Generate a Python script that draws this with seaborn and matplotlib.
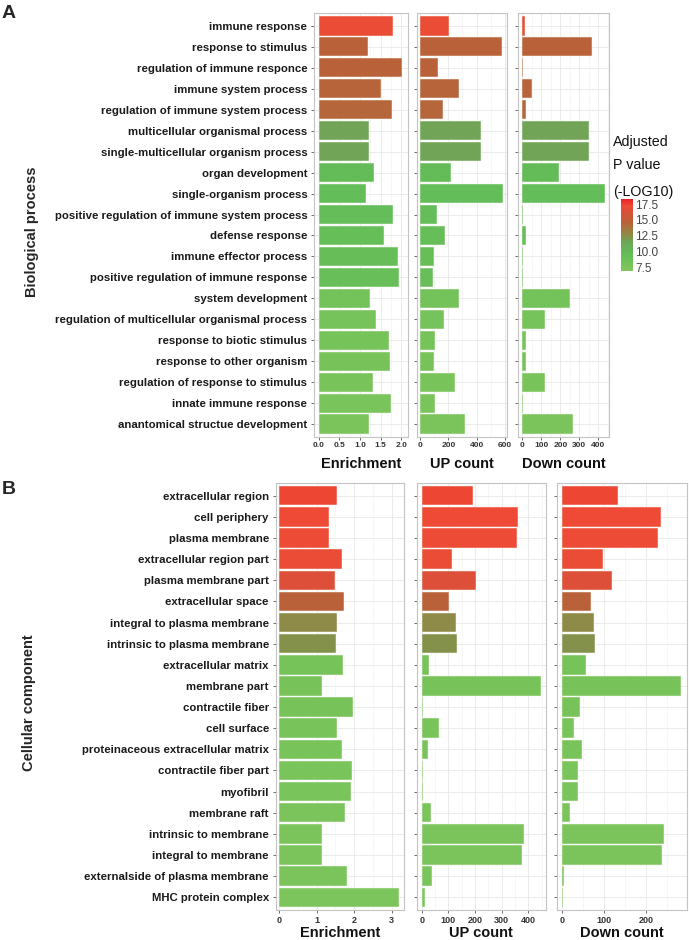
import numpy as np
import pandas as pd
import matplotlib
matplotlib.use('Agg')
import matplotlib.pyplot as plt
import seaborn as sns
from matplotlib.colors import LinearSegmentedColormap, Normalize
from matplotlib.ticker import AutoMinorLocator, FixedLocator
from matplotlib.colorbar import ColorbarBase

sns.set_theme(style='white')
plt.rcParams['font.family'] = ['Liberation Sans', 'DejaVu Sans']

# --- data: biological process (panel A) ---
bp_terms = [
    'immune response', 'response to stimulus', 'regulation of immune responce',
    'immune system process', 'regulation of immune system process',
    'multicellular organismal process', 'single-multicellular organism process',
    'organ development', 'single-organism process',
    'positive regulation of immune system process', 'defense response',
    'immune effector process', 'positive regulation of immune response',
    'system development', 'regulation of multicellular organismal process',
    'response to biotic stimulus', 'response to other organism',
    'regulation of response to stimulus', 'innate immune response',
    'anantomical structue development',
]
bp_enrichment = [1.79, 1.20, 2.02, 1.51, 1.77, 1.21, 1.21, 1.34, 1.14, 1.80,
                 1.58, 1.93, 1.94, 1.25, 1.39, 1.71, 1.73, 1.31, 1.76, 1.21]
bp_up = [205, 581, 129, 273, 162, 433, 433, 219, 588, 122,
         174, 96, 92, 278, 167, 104, 99, 249, 104, 318]
bp_down = [14, 365, 5, 53, 18, 353, 351, 193, 433, 4,
           18, 5, 2, 249, 119, 18, 18, 121, 4, 268]
bp_pval = [17.0, 14.5, 14.5, 14.4, 14.3, 11.6, 11.6, 9.6, 9.5, 9.4,
           9.3, 9.2, 9.1, 8.2, 8.1, 8.0, 7.9, 7.8, 7.7, 7.5]

# --- data: cellular component (panel B) ---
cc_terms = [
    'extracellular region', 'cell periphery', 'plasma membrane',
    'extracellular region part', 'plasma membrane part', 'extracellular space',
    'integral to plasma membrane', 'intrinsic to plasma membrane',
    'extracellular matrix', 'membrane part', 'contractile fiber', 'cell surface',
    'proteinaceous extracellular matrix', 'contractile fiber part', 'myofibril',
    'membrane raft', 'intrinsic to membrane', 'integral to membrane',
    'externalside of plasma membrane', 'MHC protein complex',
]
cc_enrichment = [1.55, 1.33, 1.33, 1.68, 1.50, 1.73, 1.54, 1.51, 1.69, 1.15,
                 1.96, 1.55, 1.68, 1.95, 1.91, 1.75, 1.15, 1.15, 1.80, 3.20]
cc_up = [192, 362, 357, 115, 202, 101, 130, 131, 29, 446,
         5, 65, 22, 6, 5, 35, 384, 375, 39, 12]
cc_down = [133, 234, 228, 97, 119, 68, 75, 77, 57, 283,
           41, 29, 48, 37, 38, 18, 241, 237, 5, 1.5]
cc_pval = [17.3, 17.2, 17.1, 17.0, 16.4, 14.5, 12.7, 12.3, 8.0, 7.9,
           7.9, 7.8, 7.8, 7.7, 7.7, 7.6, 7.6, 7.5, 7.5, 7.4]

PVAL_MIN, PVAL_MAX = 6.9, 18.3
cmap_nodes = [6.9, 8.0, 9.5, 11.5, 12.3, 12.7, 14.5, 16.4, 17.2, 18.3]
cmap_colors = ['#7fc65d', '#76c35a', '#63bd58', '#6ea659', '#84914b',
               '#8e8a47', '#b9623a', '#dc4f38', '#ee4b35', '#e6222a']
CMAP = LinearSegmentedColormap.from_list(
    'pval', [((v - PVAL_MIN) / (PVAL_MAX - PVAL_MIN), c) for v, c in zip(cmap_nodes, cmap_colors)]
)
NORM = Normalize(PVAL_MIN, PVAL_MAX)

W, H = 689, 940


def px_axes(fig, left, right, top, bottom):
    return fig.add_axes([left / W, 1 - bottom / H, (right - left) / W, (bottom - top) / H])


def draw_panel(ax, df, col, xlim, ticks, ticklabels, show_terms, tick_fs, xlabel, label_y):
    terms = list(df['Term'])
    palette = {t: CMAP(NORM(p)) for t, p in zip(df['Term'], df['Pval'])}
    sns.barplot(data=df, x=col, y='Term', hue='Term', order=terms, hue_order=terms,
                palette=palette, dodge=False, legend=False, saturation=1, width=0.92,
                edgecolor='#f4f8ef', linewidth=0.35, orient='h', ax=ax)
    ax.set_xlim(*xlim)
    ax.set_ylim(len(terms) - 0.4, -0.6)
    ax.xaxis.set_major_locator(FixedLocator(ticks))
    ax.set_xticklabels(ticklabels)
    ax.xaxis.set_minor_locator(AutoMinorLocator(2))
    ax.set_axisbelow(True)
    ax.grid(which='major', color='#e8e8e8', linewidth=0.6)
    ax.grid(which='minor', axis='x', color='#f3f3f3', linewidth=0.5)
    for sp in ax.spines.values():
        sp.set_color('#c4c4c4')
        sp.set_linewidth(0.8)
    ax.tick_params(axis='both', which='major', length=2.5, width=0.6, color='#555555',
                   left=True, bottom=True, pad=1.5)
    ax.tick_params(axis='x', which='minor', length=0)
    ax.tick_params(axis='x', labelsize=tick_fs, labelcolor='#333333')
    for lab in ax.get_xticklabels():
        lab.set_fontweight('bold')
    if show_terms:
        ax.tick_params(axis='y', labelsize=8.2, labelcolor='#1a1a1a', pad=2.5)
        for lab in ax.get_yticklabels():
            lab.set_fontweight('bold')
    else:
        ax.set_yticklabels([])
    ax.set_ylabel('')
    ax.set_xlabel(xlabel, fontsize=10.5, fontweight='bold', color='#111111')
    ax.xaxis.label.set_va('center')
    ax.xaxis.set_label_coords(0.5, label_y)


fig = plt.figure(figsize=(W / 100, H / 100), dpi=100)

bp_df = pd.DataFrame({'Term': bp_terms, 'Enrichment': bp_enrichment,
                      'UP': bp_up, 'Down': bp_down, 'Pval': bp_pval})
cc_df = pd.DataFrame({'Term': cc_terms, 'Enrichment': cc_enrichment,
                      'UP': cc_up, 'Down': cc_down, 'Pval': cc_pval})

# panel A
a_top, a_bot = 13.3, 436.7
ly_a = -(464 - a_bot) / (a_bot - a_top)
ax = px_axes(fig, 314.3, 408, a_top, a_bot)
draw_panel(ax, bp_df, 'Enrichment', (-0.104, 2.165), [0, 0.5, 1, 1.5, 2],
           ['0.0', '0.5', '1.0', '1.5', '2.0'], True, 6, 'Enrichment', ly_a)
ax = px_axes(fig, 416.7, 506.7, a_top, a_bot)
draw_panel(ax, bp_df, 'UP', (-23, 612), [0, 200, 400, 600],
           ['0', '200', '400', '600'], False, 6, 'UP count', ly_a)
ax = px_axes(fig, 518.3, 609.3, a_top, a_bot)
draw_panel(ax, bp_df, 'Down', (-21, 458), [0, 100, 200, 300, 400],
           ['0', '100', '200', '300', '400'], False, 6, 'Down count', ly_a)

# panel B
b_top, b_bot = 483, 910
ly_b = -(933 - b_bot) / (b_bot - b_top)
ax = px_axes(fig, 275.7, 404.3, b_top, b_bot)
draw_panel(ax, cc_df, 'Enrichment', (-0.096, 3.34), [0, 1, 2, 3],
           ['0', '1', '2', '3'], True, 6.5, 'Enrichment', ly_b)
ax = px_axes(fig, 416.7, 546, b_top, b_bot)
draw_panel(ax, cc_df, 'UP', (-18.7, 466), [0, 100, 200, 300, 400],
           ['0', '100', '200', '300', '400'], False, 6.5, 'UP count', ly_b)
ax = px_axes(fig, 556.7, 686.7, b_top, b_bot)
draw_panel(ax, cc_df, 'Down', (-13.3, 296), [0, 100, 200],
           ['0', '100', '200'], False, 6.5, 'Down count', ly_b)

# colour legend
cax = px_axes(fig, 620.7, 633, 199, 271)
cb = ColorbarBase(cax, cmap=CMAP, norm=NORM, orientation='vertical')
cb.set_ticks([7.5, 10, 12.5, 15, 17.5])
cb.set_ticklabels(['7.5', '10.0', '12.5', '15.0', '17.5'])
cb.outline.set_visible(False)
cax.tick_params(axis='y', length=2.5, width=0.6, color='white', direction='in',
                labelsize=8.5, labelcolor='#444444', pad=1.5)
for i, line in enumerate(['Adjusted', 'P value', '(-LOG10)']):
    fig.text(612.7 / W, 1 - [141.7, 165, 191.7][i] / H, line, fontsize=10.3,
             color='#111111', va='center', ha='left')

# side labels and panel letters
fig.text(32 / W, 1 - 232 / H, 'Biological process', rotation=90, fontsize=10.5,
         fontweight='bold', ha='center', va='center')
fig.text(29 / W, 1 - 703 / H, 'Cellular component', rotation=90, fontsize=10.5,
         fontweight='bold', ha='center', va='center')
fig.text(9 / W, 1 - 14 / H, 'A', fontsize=14, fontweight='bold', ha='center', va='center')
fig.text(9 / W, 1 - 489 / H, 'B', fontsize=14, fontweight='bold', ha='center', va='center')

fig.savefig('out.png', dpi=100)
